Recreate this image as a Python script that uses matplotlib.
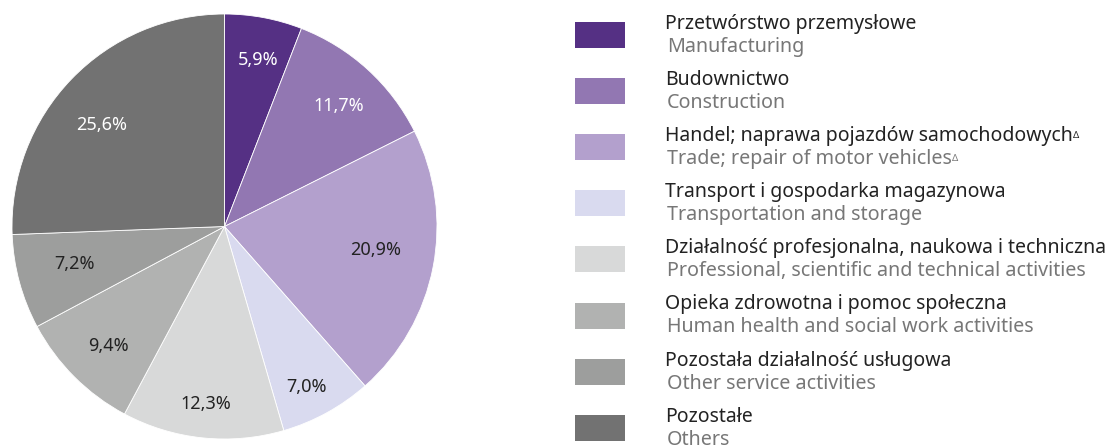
import matplotlib
matplotlib.use("Agg")
import matplotlib.pyplot as plt
from matplotlib.patches import Rectangle
import numpy as np

# data
shares = [5.9, 11.7, 20.9, 7.0, 12.3, 9.4, 7.2, 25.6]
pct_labels = ["5,9%", "11,7%", "20,9%", "7,0%", "12,3%", "9,4%", "7,2%", "25,6%"]
names_pl = [
    "Przetwórstwo przemysłowe",
    "Budownictwo",
    "Handel; naprawa pojazdów samochodowych",
    "Transport i gospodarka magazynowa",
    "Działalność profesjonalna, naukowa i techniczna",
    "Opieka zdrowotna i pomoc społeczna",
    "Pozostała działalność usługowa",
    "Pozostałe",
]
names_en = [
    "Manufacturing",
    "Construction",
    "Trade; repair of motor vehicles",
    "Transportation and storage",
    "Professional, scientific and technical activities",
    "Human health and social work activities",
    "Other service activities",
    "Others",
]
has_delta = [False, False, True, False, False, False, False, False]

# style
colors = ["#553084", "#9277b2", "#b3a0cd", "#d9daef", "#d8d9d9", "#b1b2b1", "#9d9e9d", "#727272"]
label_colors = ["white", "white", "#222222", "#222222", "#222222", "#222222", "#222222", "white"]
# label placement: radius fraction and small angle nudge (deg) per wedge
label_dist = [0.80, 0.78, 0.72, 0.85, 0.84, 0.785, 0.73, 0.75]
label_nudge = [-0.7, -1.2, 2.0, -1.7, 0, 1.0, -1.0, 4.3]

plt.rcParams["font.family"] = ["Noto Sans", "DejaVu Sans"]

W, H = 1111, 447
fig = plt.figure(figsize=(W / 100, H / 100), dpi=100)

# pie axes placed in pixel terms
cx, cy, r = 224.5, 226.5, 212.5
ax = fig.add_axes([(cx - r) / W, (H - cy - r) / H, 2 * r / W, 2 * r / H])
wedges, texts = ax.pie(shares, colors=colors, startangle=90, counterclock=False,
                       radius=1.0, wedgeprops=dict(edgecolor="white", linewidth=0.6))
ax.set_xlim(-1, 1)
ax.set_ylim(-1, 1)
ax.set_aspect("equal")
ax.axis("off")

# percentage labels near the wedge mid-angles
total = sum(shares)
cum = 0.0
for val, lab, col, d, nd in zip(shares, pct_labels, label_colors, label_dist, label_nudge):
    mid = 90 - (cum + val / 2) / total * 360 + nd
    cum += val
    ax.text(d * np.cos(np.radians(mid)), d * np.sin(np.radians(mid)), lab,
            ha="center", va="center", fontsize=13, color=col)

# legend drawn by hand
y0, step = 35, 56.1
for i, (pl, en, col) in enumerate(zip(names_pl, names_en, colors)):
    yc = y0 + i * step
    fig.patches.append(Rectangle((575 / W, 1 - (yc + 13) / H), 50 / W, 26 / H,
                                 transform=fig.transFigure, facecolor=col, edgecolor="none"))
    t1 = fig.text(665 / W, 1 - (yc - 6) / H, pl, fontsize=14, color="#222222",
                  ha="left", va="baseline")
    t2 = fig.text(667 / W, 1 - (yc + 17) / H, en, fontsize=14.2, color="#777777",
                  ha="left", va="baseline")
    if has_delta[i]:
        ax.annotate("Δ", xy=(1.0, 0.3), xycoords=t1, fontsize=7, color="#222222",
                    ha="left", va="bottom", annotation_clip=False)
        ax.annotate("Δ", xy=(1.0, 0.3), xycoords=t2, fontsize=7, color="#777777",
                    ha="left", va="bottom", annotation_clip=False)

fig.savefig("out.png", dpi=100)
